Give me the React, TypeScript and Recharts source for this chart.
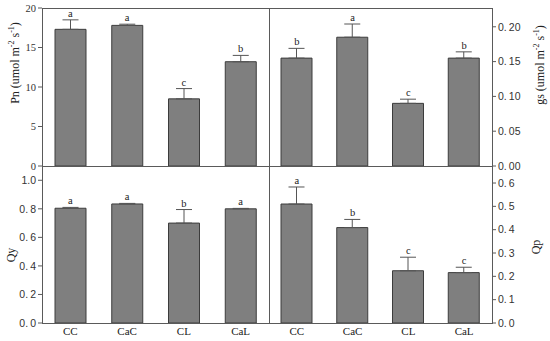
import React from "react";
import {
  ComposedChart,
  Bar,
  Line,
  XAxis,
  YAxis,
  ErrorBar,
  LabelList,
} from "recharts";

const categories = ["CC", "CaC", "CL", "CaL"];

const pnValues = [17.3, 17.8, 8.5, 13.2];
const pnErrors = [1.2, 0.15, 1.3, 0.8];
const pnLetters = ["a", "a", "c", "b"];
const pnTicks = [0, 5, 10, 15, 20];

const gsValues = [0.155, 0.185, 0.09, 0.155];
const gsErrors = [0.014, 0.019, 0.006, 0.009];
const gsLetters = ["b", "a", "c", "b"];
const gsTicks = [0, 0.05, 0.1, 0.15, 0.2];

const qyValues = [0.804, 0.834, 0.7, 0.8];
const qyErrors = [0.006, 0.004, 0.095, 0.003];
const qyLetters = ["a", "a", "b", "a"];
const qyTicks = [0, 0.2, 0.4, 0.6, 0.8, 1.0];

const qpValues = [0.51, 0.409, 0.224, 0.216];
const qpErrors = [0.073, 0.035, 0.058, 0.023];
const qpLetters = ["a", "b", "c", "c"];
const qpTicks = [0, 0.1, 0.2, 0.3, 0.4, 0.5, 0.6];

const SERIF = "Liberation Serif";
const SANS = "Liberation Sans";
const FRAME = "#5a5a5a";

const buildRows = (values: number[], errors: number[], letters: string[]) =>
  categories.map((name, i) => ({
    name,
    value: values[i],
    err: [0, errors[i]],
    top: values[i] + errors[i],
    letter: letters[i],
  }));

// "0. 20" style used by the original figure
const spacedDecimal = (digits: number) => (v: number) => {
  const s = v.toFixed(digits);
  return s.replace(".", ".\u2009");
};

interface PanelProps {
  rows: any[];
  domain: [number, number];
  ticks: number[];
  side: "left" | "right";
  bottom: boolean;
  tickFont: string;
  formatter: (v: number) => string;
}

function Panel({ rows, domain, ticks, side, bottom, tickFont, formatter }: PanelProps) {
  const axisW = 40;
  const xH = 18;
  const margin = {
    top: bottom ? 166 : 8,
    bottom: bottom ? 341 - 323 - xH : 341 - 166,
    left: side === "left" ? 42 - axisW : 269,
    right: side === "left" ? 550 - 269 : 550 - 492 - axisW,
  };
  return (
    <div style={{ position: "absolute", left: 0, top: 0 }}>
      <ComposedChart width={550} height={341} data={rows} margin={margin}>
        <XAxis
          dataKey="name"
          hide={!bottom}
          height={xH}
          axisLine={false}
          tickLine={false}
          tickSize={0}
          tickMargin={4}
          tick={{ fontFamily: SERIF, fontSize: 11, fill: "#222" }}
        />
        <YAxis
          orientation={side}
          width={axisW}
          domain={domain}
          ticks={ticks}
          allowDataOverflow
          axisLine={false}
          tickSize={4}
          tickLine={{ stroke: FRAME }}
          tickMargin={2}
          tickFormatter={formatter}
          tick={{ fontFamily: tickFont, fontSize: 10.5, fill: "#333" }}
        />
        <Bar
          dataKey="value"
          fill="#7f7f7f"
          stroke="#3c3c3c"
          strokeWidth={1}
          barSize={31}
          isAnimationActive={false}
        >
          <ErrorBar dataKey="err" direction="y" width={8} stroke="#555" strokeWidth={1} />
        </Bar>
        <Line
          dataKey="top"
          stroke="none"
          dot={false}
          activeDot={false}
          isAnimationActive={false}
        >
          <LabelList
            dataKey="letter"
            position="top"
            offset={3}
            style={{ fontFamily: SERIF, fontSize: 10.5, fill: "#222" }}
          />
        </Line>
      </ComposedChart>
    </div>
  );
}

function Units({ name }: { name: string }) {
  return (
    <>
      {name} (umol m
      <tspan dy={-4} fontSize={8}>-2</tspan>
      <tspan dy={4}> s</tspan>
      <tspan dy={-4} fontSize={8}>-1</tspan>
      <tspan dy={4}>)</tspan>
    </>
  );
}

export default function App() {
  return (
    <div style={{ position: "absolute", left: 0, top: 0, width: 550, height: 341, background: "#fff" }}>
      <Panel
        rows={buildRows(pnValues, pnErrors, pnLetters)}
        domain={[0, 20]}
        ticks={pnTicks}
        side="left"
        bottom={false}
        tickFont={SERIF}
        formatter={(v) => String(v)}
      />
      <Panel
        rows={buildRows(gsValues, gsErrors, gsLetters)}
        domain={[0, 0.227]}
        ticks={gsTicks}
        side="right"
        bottom={false}
        tickFont={SANS}
        formatter={spacedDecimal(2)}
      />
      <Panel
        rows={buildRows(qyValues, qyErrors, qyLetters)}
        domain={[0, 1.1]}
        ticks={qyTicks}
        side="left"
        bottom={true}
        tickFont={SANS}
        formatter={(v) => (v === 1 ? "1.0" : spacedDecimal(1)(v))}
      />
      <Panel
        rows={buildRows(qpValues, qpErrors, qpLetters)}
        domain={[0, 0.673]}
        ticks={qpTicks}
        side="right"
        bottom={true}
        tickFont={SANS}
        formatter={spacedDecimal(1)}
      />
      <svg width={550} height={341} style={{ position: "absolute", left: 0, top: 0, pointerEvents: "none" }}>
        <rect x={42.5} y={8.5} width={450} height={315} fill="none" stroke={FRAME} strokeWidth={1} />
        <line x1={269.5} y1={8} x2={269.5} y2={323} stroke={FRAME} strokeWidth={1} />
        <line x1={42} y1={166.5} x2={492} y2={166.5} stroke={FRAME} strokeWidth={1} />
        <g fontFamily={SERIF} fontSize={12} fill="#222">
          <text x={15} y={63} transform="rotate(-90 15 63)" textAnchor="middle" dominantBaseline="central">
            <Units name="Pn" />
          </text>
          <text x={540} y={65} transform="rotate(-90 540 65)" textAnchor="middle" dominantBaseline="central">
            <Units name="gs" />
          </text>
          <text x={11} y={255} transform="rotate(-90 11 255)" textAnchor="middle" dominantBaseline="central">
            Qy
          </text>
          <text x={536} y={247} transform="rotate(-90 536 247)" textAnchor="middle" dominantBaseline="central">
            Qp
          </text>
        </g>
      </svg>
    </div>
  );
}
